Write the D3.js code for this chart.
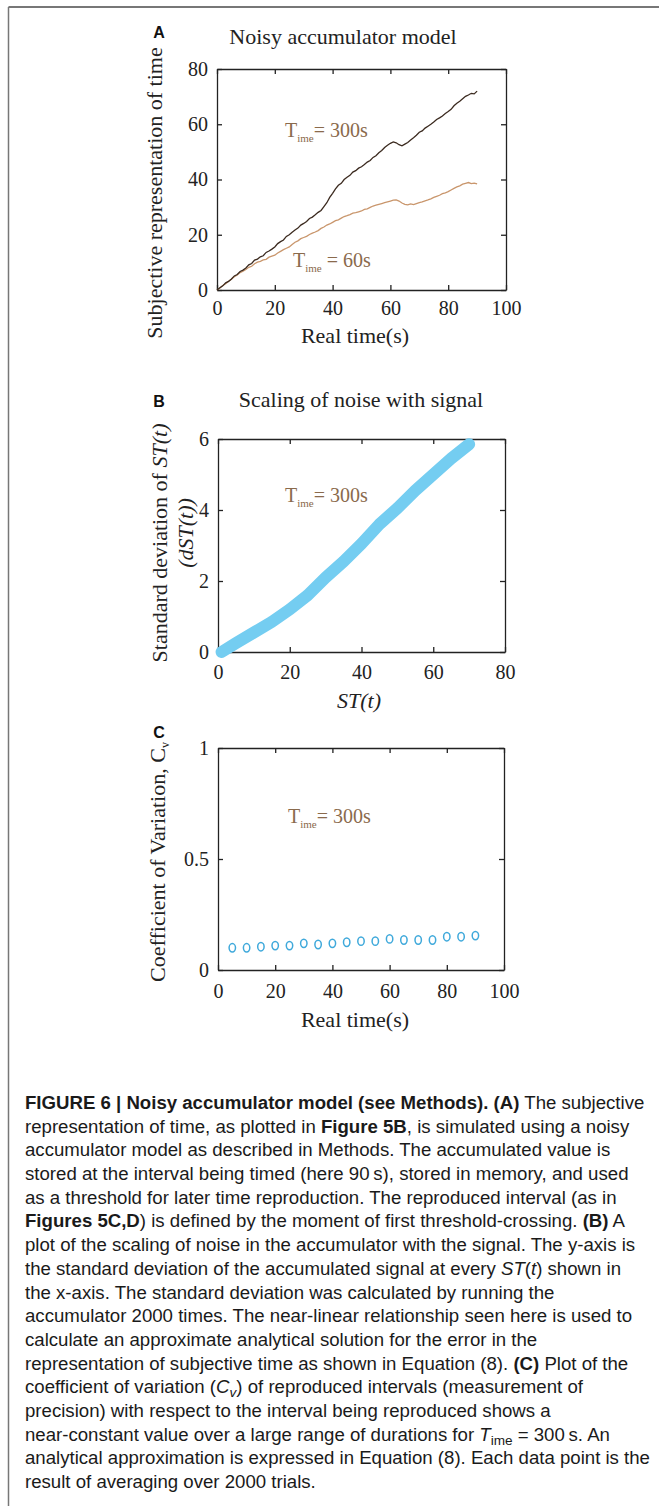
<!DOCTYPE html>
<html>
<head>
<meta charset="utf-8">
<script src="https://cdn.jsdelivr.net/npm/d3@7"></script>
<style>
  html, body { margin: 0; padding: 0; background: #fff; }
  svg { display: block; }
  text { white-space: pre; }
</style>
</head>
<body>
<svg id="fig" width="659" height="1506"></svg>
<script>
// PANEL A - noisy accumulator traces (1 s steps)
var realTimeA = [0, 1, 2, 3, 4, 5, 6, 7, 8, 9, 10, 11, 12, 13, 14, 15, 16, 17, 18, 19,
  20, 21, 22, 23, 24, 25, 26, 27, 28, 29, 30, 31, 32, 33, 34, 35, 36, 37, 38, 39,
  40, 41, 42, 43, 44, 45, 46, 47, 48, 49, 50, 51, 52, 53, 54, 55, 56, 57, 58, 59,
  60, 61, 62, 63, 64, 65, 66, 67, 68, 69, 70, 71, 72, 73, 74, 75, 76, 77, 78, 79,
  80, 81, 82, 83, 84, 85, 86, 87, 88, 89, 90];
var accum300 = [0, 0.8, 1.5, 2.6, 3.1, 4.0, 5.1, 5.6, 6.7, 7.2, 8.0, 9.1, 9.6, 10.8, 11.2, 12.0, 12.4, 13.6, 14.1, 14.8,
  15.6, 16.8, 17.5, 18.1, 19.4, 20.0, 20.9, 21.7, 22.4, 23.5, 24.1, 24.8, 25.9, 26.4, 27.2, 28.1, 28.8, 30.2, 31.6, 33.5,
  35.0, 36.6, 37.9, 38.6, 40.0, 40.8, 41.5, 42.7, 43.2, 44.1, 44.6, 45.4, 46.3, 46.9, 48.0, 48.6, 49.7, 50.5, 51.6, 52.4,
  53.1, 53.6, 53.3, 52.6, 52.2, 52.8, 53.4, 54.3, 55.1, 56.0, 57.1, 57.6, 58.6, 59.3, 60.0, 60.8, 61.7, 62.3, 63.0, 63.9,
  64.6, 65.4, 66.7, 67.6, 68.3, 69.2, 70.1, 70.6, 71.2, 71.0, 72.0];
var accum60 = [0, 0.7, 1.6, 2.3, 3.2, 3.9, 4.8, 5.4, 6.3, 6.8, 7.4, 8.2, 8.6, 9.5, 10.1, 10.4, 10.9, 11.1, 11.9, 12.3,
  12.6, 13.4, 14.0, 14.6, 15.1, 15.6, 16.5, 17.3, 17.8, 18.6, 19.0, 19.4, 20.1, 20.6, 21.0, 21.5, 22.3, 22.8, 23.5, 23.9,
  24.5, 25.1, 25.4, 26.0, 26.6, 26.9, 27.3, 27.8, 28.0, 28.3, 28.6, 29.2, 29.4, 29.9, 30.4, 30.7, 31.0, 31.3, 31.6, 31.9,
  32.2, 32.5, 32.6, 32.2, 31.5, 31.0, 30.8, 31.2, 30.9, 31.3, 31.6, 31.9, 32.3, 32.6, 33.0, 33.5, 33.9, 34.3, 34.9, 35.2,
  35.6, 36.2, 36.8, 37.3, 37.7, 38.3, 38.6, 38.9, 38.5, 38.7, 38.4];

// PANEL B - std. deviation vs accumulated signal
var signalST = [1, 5, 10, 15, 20, 25, 30, 35, 40, 45, 50, 55, 60, 65, 70];
var noiseSD = [0, 0.25, 0.55, 0.85, 1.2, 1.6, 2.1, 2.55, 3.05, 3.6, 4.05, 4.55, 5.0, 5.45, 5.85];

// PANEL C - coefficient of variation
var reproTime = [5, 10, 15, 20, 25, 30, 35, 40, 45, 50, 55, 60, 65, 70, 75, 80, 85, 90];
var cvValues = [0.10, 0.10, 0.105, 0.11, 0.11, 0.12, 0.115, 0.12, 0.125, 0.13, 0.13, 0.14, 0.135, 0.135, 0.135, 0.15, 0.15, 0.155];

// TICKS
var xTicksA = [0, 20, 40, 60, 80, 100];
var yTicksA = [0, 20, 40, 60, 80];
var xTicksB = [0, 20, 40, 60, 80];
var yTicksB = [0, 2, 4, 6];
var xTicksC = [0, 20, 40, 60, 80, 100];
var yTicksC = [0, 0.5, 1];

var SERIF = '"Liberation Serif", "Times New Roman", Times, serif';
var SANS = '"Liberation Sans", Arial, Helvetica, sans-serif';
var INK = '#222';
var NOTE = '#8a6a4c';

var svg = d3.select('#fig');

function translation(x, y) {
  return 'translate(' + x + ',' + y + ')';
}

// frame: top rule + left rule
svg.append('line').attr('x1', 8.5).attr('x2', 659).attr('y1', 7).attr('y2', 7)
  .attr('stroke', '#777').attr('stroke-width', 2);
svg.append('line').attr('x1', 8.5).attr('x2', 8.5).attr('y1', 7).attr('y2', 1506)
  .attr('stroke', '#777').attr('stroke-width', 1.5);

function styleAxis(sel) {
  sel.attr('font-family', SERIF).attr('font-size', 20).attr('color', INK);
  sel.selectAll('line, path').attr('stroke-width', 1.3);
}

function panel(o) {
  var x = d3.scaleLinear().domain(o.xDomain).range([o.left, o.right]);
  var y = d3.scaleLinear().domain(o.yDomain).range([o.bottom, o.top]);
  var g = svg.append('g');
  var fmt = d3.format('~g');

  g.append('g').attr('transform', translation(0, o.bottom))
    .call(d3.axisBottom(x).tickValues(o.xTicks).tickSize(-5).tickSizeOuter(0).tickPadding(o.xPad).tickFormat(fmt))
    .call(styleAxis);
  g.append('g').attr('transform', translation(0, o.top))
    .call(d3.axisTop(x).tickValues(o.xTicks).tickSize(-5).tickSizeOuter(0).tickFormat(''))
    .call(styleAxis);
  g.append('g').attr('transform', translation(o.left, 0))
    .call(d3.axisLeft(y).tickValues(o.yTicks).tickSize(-5).tickSizeOuter(0).tickPadding(9).tickFormat(fmt))
    .call(styleAxis);
  g.append('g').attr('transform', translation(o.right, 0))
    .call(d3.axisRight(y).tickValues(o.yTicks).tickSize(-5).tickSizeOuter(0).tickFormat(''))
    .call(styleAxis);

  // panel letter + title
  g.append('text').attr('x', 159).attr('y', o.letterY).attr('text-anchor', 'middle')
    .attr('font-family', SANS).attr('font-weight', 'bold').attr('font-size', 16).attr('fill', '#111')
    .text(o.letter);
  if (o.title) {
    g.append('text').attr('x', o.titleX).attr('y', o.titleY).attr('text-anchor', 'middle')
      .attr('font-family', SERIF).attr('font-size', 22).attr('fill', INK).text(o.title);
  }
  return { x: x, y: y, g: g };
}

function timeNote(g, x, y, rest) {
  var t = g.append('text').attr('x', x).attr('y', y)
    .attr('font-family', SERIF).attr('font-size', 20).attr('fill', NOTE);
  t.append('tspan').text('T');
  t.append('tspan').attr('font-size', 11).attr('dy', 5).text('ime');
  t.append('tspan').attr('dy', -5).text(rest);
}

function yLabel(g, x, y, parts) {
  var t = g.append('text').attr('transform', translation(x, y) + 'rotate(-90)')
    .attr('text-anchor', 'middle').attr('dy', '0.3em')
    .attr('font-family', SERIF).attr('font-size', 22).attr('fill', INK);
  parts.forEach(function (p) {
    t.append('tspan').attr('font-style', p[1] ? 'italic' : null).text(p[0]);
  });
}

// ---------- A ----------
var A = panel({
  left: 217, right: 506, top: 69, bottom: 290,
  xDomain: [0, 100], yDomain: [0, 80], xTicks: xTicksA, yTicks: yTicksA, xPad: 11,
  letter: 'A', letterY: 38, title: 'Noisy accumulator model', titleX: 343, titleY: 44
});

var lineA = d3.line()
  .x(function (d) { return A.x(d[0]); })
  .y(function (d) { return A.y(d[1]); });

A.g.append('path')
  .datum(realTimeA.map(function (t, i) { return [t, accum60[i]]; }))
  .attr('d', lineA).attr('fill', 'none').attr('stroke', '#c9966c').attr('stroke-width', 1.3);
A.g.append('path')
  .datum(realTimeA.map(function (t, i) { return [t, accum300[i]]; }))
  .attr('d', lineA).attr('fill', 'none').attr('stroke', '#3b2a1f').attr('stroke-width', 1.3);

timeNote(A.g, 285, 137, '= 300s');
timeNote(A.g, 293, 267, ' = 60s');
yLabel(A.g, 155, 193, [['Subjective representation of time', false]]);
A.g.append('text').attr('x', 355).attr('y', 343).attr('text-anchor', 'middle')
  .attr('font-family', SERIF).attr('font-size', 22).attr('fill', INK).text('Real time(s)');

// ---------- B ----------
var B = panel({
  left: 218, right: 505, top: 439, bottom: 652,
  xDomain: [0, 80], yDomain: [0, 6], xTicks: xTicksB, yTicks: yTicksB, xPad: 13,
  letter: 'B', letterY: 407, title: 'Scaling of noise with signal', titleX: 361, titleY: 407
});

B.g.append('path')
  .datum(signalST.map(function (s, i) { return [s, noiseSD[i]]; }))
  .attr('d', d3.line().x(function (d) { return B.x(d[0]); }).y(function (d) { return B.y(d[1]); }))
  .attr('fill', 'none').attr('stroke', '#74cdf1').attr('stroke-width', 12)
  .attr('stroke-linecap', 'round').attr('stroke-linejoin', 'round');

timeNote(B.g, 285, 502, '= 300s');
yLabel(B.g, 160, 543, [['Standard deviation of ', false], ['ST(t)', true]]);
yLabel(B.g, 186, 533, [['(dST(t))', true]]);
B.g.append('text').attr('x', 359).attr('y', 708).attr('text-anchor', 'middle')
  .attr('font-family', SERIF).attr('font-size', 22).attr('font-style', 'italic').attr('fill', INK).text('ST(t)');

// ---------- C ----------
var C = panel({
  left: 218, right: 504, top: 748, bottom: 970,
  xDomain: [0, 100], yDomain: [0, 1], xTicks: xTicksC, yTicks: yTicksC, xPad: 14,
  letter: 'C', letterY: 738
});

C.g.selectAll('ellipse.cv')
  .data(reproTime)
  .enter().append('ellipse')
  .attr('class', 'cv')
  .attr('cx', function (d) { return C.x(d); })
  .attr('cy', function (d, i) { return C.y(cvValues[i]); })
  .attr('rx', 3.2).attr('ry', 4.2)
  .attr('fill', 'none').attr('stroke', '#3fa9db').attr('stroke-width', 1.5);

timeNote(C.g, 288, 823, '= 300s');
var cvLabel = C.g.append('text').attr('transform', translation(158, 862) + 'rotate(-90)')
  .attr('text-anchor', 'middle').attr('dy', '0.3em')
  .attr('font-family', SERIF).attr('font-size', 22).attr('fill', INK);
cvLabel.append('tspan').text('Coefficient of Variation, C');
cvLabel.append('tspan').attr('font-size', 12).attr('dy', 4).text('v');
C.g.append('text').attr('x', 355).attr('y', 1027).attr('text-anchor', 'middle')
  .attr('font-family', SERIF).attr('font-size', 22).attr('fill', INK).text('Real time(s)');

// ---------- CAPTION ----------
// style codes: n normal, b bold, i italic, s subscript, is italic subscript
var captionLines = [
  [['FIGURE 6 | Noisy accumulator model (see Methods). (A)', 'b'], [' The subjective', 'n']],
  [['representation of time, as plotted in ', 'n'], ['Figure 5B', 'b'], [', is simulated using a noisy', 'n']],
  [['accumulator model as described in Methods. The accumulated value is', 'n']],
  [['stored at the interval being timed (here 90\u2009s), stored in memory, and used', 'n']],
  [['as a threshold for later time reproduction. The reproduced interval (as in', 'n']],
  [['Figures 5C,D', 'b'], [') is defined by the moment of first threshold-crossing. ', 'n'], ['(B)', 'b'], [' A', 'n']],
  [['plot of the scaling of noise in the accumulator with the signal. The y-axis is', 'n']],
  [['the standard deviation of the accumulated signal at every ', 'n'], ['ST', 'i'], ['(', 'n'], ['t', 'i'], [') shown in', 'n']],
  [['the x-axis. The standard deviation was calculated by running the', 'n']],
  [['accumulator 2000 times. The near-linear relationship seen here is used to', 'n']],
  [['calculate an approximate analytical solution for the error in the', 'n']],
  [['representation of subjective time as shown in Equation (8). ', 'n'], ['(C)', 'b'], [' Plot of the', 'n']],
  [['coefficient of variation (', 'n'], ['C', 'i'], ['v', 'is'], [') of reproduced intervals (measurement of', 'n']],
  [['precision) with respect to the interval being reproduced shows a', 'n']],
  [['near-constant value over a large range of durations for ', 'n'], ['T', 'i'], ['ime', 's'], [' = 300\u2009s. An', 'n']],
  [['analytical approximation is expressed in Equation (8). Each data point is the', 'n']],
  [['result of averaging over 2000 trials.', 'n']]
];

// the original uses a condensed grotesque; emulate it with a horizontal squeeze
var capLeft = 25, capFirstWidth = 620;
var cap = svg.append('g').attr('font-family', SANS).attr('font-size', 18.5).attr('fill', '#1a1a1a');
var capTexts = [];
captionLines.forEach(function (line, li) {
  var t = cap.append('text').attr('x', 0).attr('y', 1109 + li * 23.7);
  var shifted = false;
  line.forEach(function (seg) {
    var ts = t.append('tspan').text(seg[0]);
    if (seg[1] === 'b') ts.attr('font-weight', 'bold');
    if (seg[1] === 'i' || seg[1] === 'is') ts.attr('font-style', 'italic');
    if (seg[1] === 's' || seg[1] === 'is') {
      ts.attr('font-size', 13.5).attr('dy', 4);
      shifted = true;
    } else if (shifted) {
      ts.attr('dy', -4);
      shifted = false;
    }
  });
  capTexts.push(t);
});
var squeeze = capFirstWidth / capTexts[0].node().getComputedTextLength();
cap.attr('transform', translation(capLeft, 0) + ' scale(' + squeeze + ',1)');
</script>
</body>
</html>
